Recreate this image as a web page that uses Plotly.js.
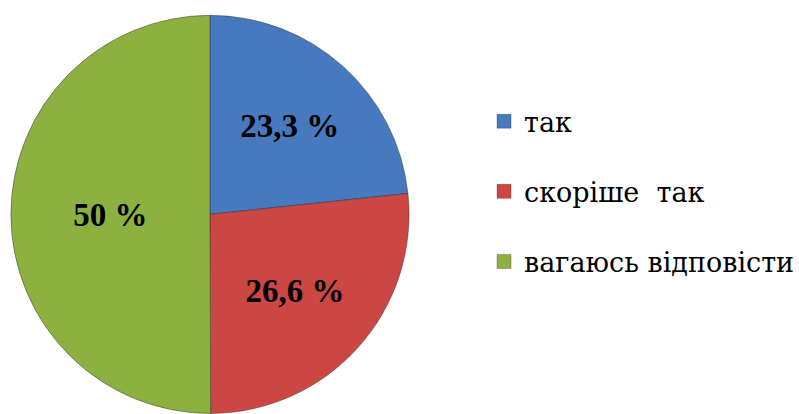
<!DOCTYPE html>
<html>
<head>
<meta charset="utf-8">
<script src="https://cdn.plot.ly/plotly-3.0.1.min.js"></script>
<style>html,body{margin:0;padding:0;background:#fff;}#chart{width:799px;height:414px;}</style>
</head>
<body>
<div id="chart"></div>
<script>
var categories = ["так", "скоріше  так", "вагаюсь відповісти"];
var values = [23.3, 26.6, 50];
var colors = ["#4679be", "#cc4643", "#8db140"];

var LABEL_FONT = 'Liberation Serif';
var LEGEND_FONT = 'DejaVu Serif';
var textLabels = values.map(function (v) { return String(v).replace('.', ',') + ' %'; });

var pie = {
  type: 'pie',
  labels: categories,
  values: values,
  text: textLabels,
  textinfo: 'text',
  textposition: 'inside',
  insidetextorientation: 'horizontal',
  sort: false,
  direction: 'clockwise',
  rotation: 0,
  showlegend: false,
  marker: { colors: colors, line: { color: 'rgba(40,40,40,0.55)', width: 0.8 } },
  textfont: { family: LABEL_FONT, size: 33, color: '#000', weight: 'bold' },
  domain: { x: [0.0125, 0.5131], y: [0.0013, 0.963] },
  hoverinfo: 'none'
};

// legend entries (one per category, each in its own group so the gap applies)
var legendTraces = categories.map(function (c, i) {
  return {
    type: 'scatter', mode: 'markers',
    x: [null], y: [null],
    name: c,
    legendgroup: 'g' + i,
    marker: { symbol: 'square', size: 14, color: colors[i], line: { color: 'rgba(40,40,40,0.5)', width: 0.6 } },
    hoverinfo: 'none'
  };
});

var layout = {
  width: 799,
  height: 414,
  margin: { l: 0, r: 0, t: 0, b: 0, autoexpand: false },
  paper_bgcolor: '#fff',
  plot_bgcolor: 'rgba(0,0,0,0)',
  xaxis: { visible: false },
  yaxis: { visible: false },
  showlegend: true,
  legend: {
    x: 0.6058, xanchor: 'left',
    y: 0.537, yanchor: 'middle',
    traceorder: 'grouped',
    tracegroupgap: 32,
    font: { family: LEGEND_FONT, size: 27, color: '#000' }
  }
};

Plotly.newPlot('chart', [pie].concat(legendTraces), layout, { staticPlot: true });
</script>
</body>
</html>
